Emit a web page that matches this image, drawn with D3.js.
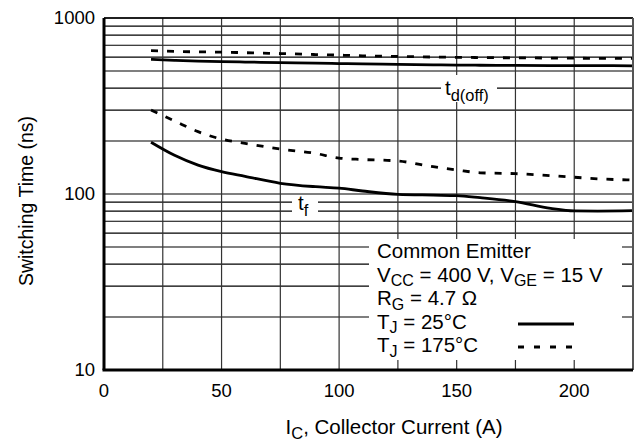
<!DOCTYPE html>
<html>
<head>
<meta charset="utf-8">
<script src="https://cdn.jsdelivr.net/npm/d3@7"></script>
<style>
  body { margin: 0; background: #fff; }
  svg text { font-family: "Liberation Sans", Arial, sans-serif; fill: #000; }
</style>
</head>
<body>
<div id="chart"></div>
<script>
// collector current (A)
const current = [20, 30, 40, 50, 60, 75, 90, 100, 110, 125, 140, 150, 160, 175, 190, 200, 210, 225];
// switching times (ns)
const tdOff25  = [582, 575, 569, 565, 562, 558, 554, 551, 548, 545, 542, 540, 539, 538, 537, 536, 536, 535];
const tdOff175 = [652, 646, 642, 640, 635, 628, 620, 615, 610, 605, 600, 598, 596, 594, 592, 591, 590, 590];
const tf25     = [197, 166, 146, 134, 126, 115, 110, 108, 104, 99.5, 98.5, 97.9, 95.3, 90.5, 82.9, 80.2, 80, 80.4];
const tf175    = [300, 260, 226, 205, 194, 180, 170, 160, 157, 154, 143, 137, 132, 130.5, 127, 124.5, 122, 120];

const xTicks = [0, 50, 100, 150, 200];
const yTicks = [10, 100, 1000];
const legendLines = ["Common Emitter", "V|CC| = 400 V, V|GE| = 15 V", "R|G| = 4.7 Ω", "T|J| = 25°C", "T|J| = 175°C"];

const width = 636, height = 447;
const margin = { top: 18, right: 3, bottom: 77, left: 104 };

const svg = d3.select("#chart").append("svg")
    .attr("width", width)
    .attr("height", height);

const x = d3.scaleLinear()
    .domain([0, 225])
    .range([margin.left, width - margin.right]);

const y = d3.scaleLog()
    .domain([10, 1000])
    .range([height - margin.bottom, margin.top]);

// grid
let minor = [];
for (let dec of [10, 100]) {
    for (let k = 1; k < 10; k++) minor.push(dec * k);
}
minor.push(1000);

svg.append("g")
    .selectAll("line")
    .data(minor)
    .join("line")
    .attr("x1", x(0)).attr("x2", x(225))
    .attr("y1", d => y(d)).attr("y2", d => y(d))
    .attr("stroke", "#000")
    .attr("stroke-width", 1.2);

svg.append("g")
    .selectAll("line")
    .data(d3.range(25, 225, 25))
    .join("line")
    .attr("x1", d => x(d)).attr("x2", d => x(d))
    .attr("y1", y(10)).attr("y2", y(1000))
    .attr("stroke", "#333")
    .attr("stroke-width", 1.2);

// legend box hides the grid beneath it
svg.append("rect")
    .attr("x", 369).attr("y", 239)
    .attr("width", 253).attr("height", 121)
    .attr("fill", "#fff");

// curves
const line = d3.line()
    .x(d => x(d[0]))
    .y(d => y(d[1]))
    .curve(d3.curveMonotoneX);

const series = [
    { values: tdOff25, dash: null },
    { values: tdOff175, dash: "7,9" },
    { values: tf25, dash: null },
    { values: tf175, dash: "7,9" }
];

svg.append("g")
    .selectAll("path")
    .data(series)
    .join("path")
    .attr("d", s => line(current.map((c, i) => [c, s.values[i]])))
    .attr("fill", "none")
    .attr("stroke", "#000")
    .attr("stroke-width", 2.8)
    .attr("stroke-dasharray", s => s.dash);

// curve labels
function subText(g, xPos, yPos, main, sub, size) {
    let t = g.append("text")
        .attr("x", xPos).attr("y", yPos)
        .style("font-size", size + "px");
    t.append("tspan").text(main);
    t.append("tspan").attr("dy", 6).style("font-size", (size * 0.8) + "px").text(sub);
    return t;
}

svg.append("rect").attr("x", 441).attr("y", 75).attr("width", 56).attr("height", 27).attr("fill", "#fff");
subText(svg, 445, 95, "t", "d(off)", 20.5);

svg.append("rect").attr("x", 292).attr("y", 198).attr("width", 26).attr("height", 19).attr("fill", "#fff");
subText(svg, 298, 210, "t", "f", 20.5);

// legend text
legendLines.forEach((str, i) => {
    let t = svg.append("text")
        .attr("x", 377)
        .attr("y", 258 + i * 23.6)
        .style("font-size", "20.5px");
    str.split("|").forEach((part, j) => {
        let ts = t.append("tspan").text(part);
        if (j % 2 == 1) ts.attr("dy", 4.5).style("font-size", "16px");
        else if (j > 0) ts.attr("dy", -4.5);
    });
});

svg.append("line")
    .attr("x1", 518).attr("x2", 574).attr("y1", 324).attr("y2", 324)
    .attr("stroke", "#000").attr("stroke-width", 2.8);
svg.append("line")
    .attr("x1", 518).attr("x2", 578).attr("y1", 347).attr("y2", 347)
    .attr("stroke", "#000").attr("stroke-width", 2.8)
    .attr("stroke-dasharray", "6,10");

// frame
svg.append("line").attr("x1", x(0)).attr("x2", x(225)).attr("y1", y(1000)).attr("y2", y(1000))
    .attr("stroke", "#000").attr("stroke-width", 1.5);
svg.append("line").attr("x1", x(225)).attr("x2", x(225)).attr("y1", y(1000)).attr("y2", y(10))
    .attr("stroke", "#555").attr("stroke-width", 2);
svg.append("line").attr("x1", x(0) - 1.5).attr("x2", x(225)).attr("y1", y(10)).attr("y2", y(10))
    .attr("stroke", "#000").attr("stroke-width", 3);
svg.append("line").attr("x1", x(0)).attr("x2", x(0)).attr("y1", y(1000)).attr("y2", y(10))
    .attr("stroke", "#000").attr("stroke-width", 3);

// tick labels
svg.append("g")
    .selectAll("text")
    .data(xTicks)
    .join("text")
    .attr("x", d => x(d))
    .attr("y", y(10) + 27)
    .attr("text-anchor", "middle")
    .style("font-size", "18.5px")
    .text(d => d);

svg.append("g")
    .selectAll("text")
    .data(yTicks)
    .join("text")
    .attr("x", x(0) - 9)
    .attr("y", d => y(d) + 6)
    .attr("text-anchor", "end")
    .style("font-size", "18.5px")
    .text(d => d);

// axis titles
let xl = svg.append("text")
    .attr("x", 394)
    .attr("y", 434)
    .attr("text-anchor", "middle")
    .style("font-size", "20.5px");
xl.append("tspan").text("I");
xl.append("tspan").attr("dy", 5).style("font-size", "16.5px").text("C");
xl.append("tspan").attr("dy", -5).text(", Collector Current (A)");

svg.append("text")
    .attr("transform", "translate(33,201) rotate(-90)")
    .attr("text-anchor", "middle")
    .style("font-size", "19.5px")
    .text("Switching Time (ns)");
</script>
</body>
</html>
